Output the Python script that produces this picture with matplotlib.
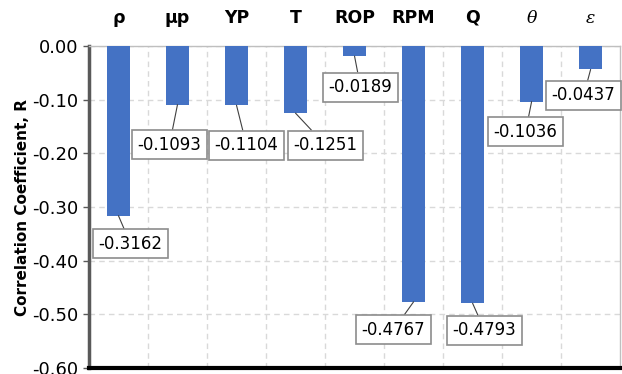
import numpy as np
import matplotlib.pyplot as plt
from matplotlib.ticker import FixedLocator

plt.rcParams['mathtext.fontset'] = 'dejavuserif'

params = ['ρ', 'μp', 'YP', 'T', 'ROP', 'RPM', 'Q', r'$\theta$', r'$\varepsilon$']
r_vals = [-0.3162, -0.1093, -0.1104, -0.1251, -0.0189, -0.4767, -0.4793, -0.1036, -0.0437]
yticks = [-0.6, -0.5, -0.4, -0.3, -0.2, -0.1, 0.0]
ytick_labels = ['-0.60', '-0.50', '-0.40', '-0.30', '-0.20', '-0.10', '0.00']
# label box offsets from bar end, pixels
lab_off = [(12, -28), (-8, -40), (10, -40), (30, -32), (6, -31),
           (-20, -28), (12, -27), (-6, -30), (-7, -26)]

fig = plt.figure(figsize=(6.22, 3.74), dpi=100)
ax = fig.add_axes([0.143, 0.016, 0.854, 0.861])

x = np.arange(len(params))
ax.bar(x, r_vals, width=0.4, color='#4472C4', zorder=3)

ax.set_xlim(-0.5, len(params) - 0.5)
ax.set_ylim(-0.6, 0)
ax.set_yticks(yticks)
ax.set_yticklabels(ytick_labels, fontsize=13)
ax.set_ylabel('Correlation Coefficient, R', fontsize=11, fontweight='bold', labelpad=2)

ax.xaxis.tick_top()
ax.set_xticks(x)
ax.set_xticklabels(params, fontsize=12.5, fontweight='bold')
ax.tick_params(axis='x', length=0, pad=14)
ax.tick_params(axis='y', length=4, width=1, color='#595959')
ax.xaxis.set_minor_locator(FixedLocator(x[:-1] + 0.5))
ax.tick_params(axis='x', which='minor', length=0)

ax.grid(axis='y', which='major', ls=(0, (4, 3)), color='#d9d9d9', lw=1, zorder=0)
ax.grid(axis='x', which='minor', ls=(0, (4, 3)), color='#d9d9d9', lw=1, zorder=0)

ax.spines['left'].set_color('#595959')
ax.spines['left'].set_linewidth(2.5)
ax.spines['bottom'].set_color('black')
ax.spines['bottom'].set_linewidth(3)
ax.spines['top'].set_color('#bfbfbf')
ax.spines['top'].set_linewidth(1)
ax.spines['right'].set_color('#bfbfbf')
ax.spines['right'].set_linewidth(1)

for xi, v, off in zip(x, r_vals, lab_off):
    ax.annotate('%.4f' % v, xy=(xi, v), xytext=off, textcoords='offset pixels',
                ha='center', va='center', fontsize=12,
                bbox=dict(boxstyle='square,pad=0.33', fc='white', ec='#8c8c8c', lw=1.2),
                arrowprops=dict(arrowstyle='-', color='#404040', lw=0.8,
                                shrinkA=0, shrinkB=0),
                zorder=5, annotation_clip=False)

fig.savefig('out.png', dpi=100)
